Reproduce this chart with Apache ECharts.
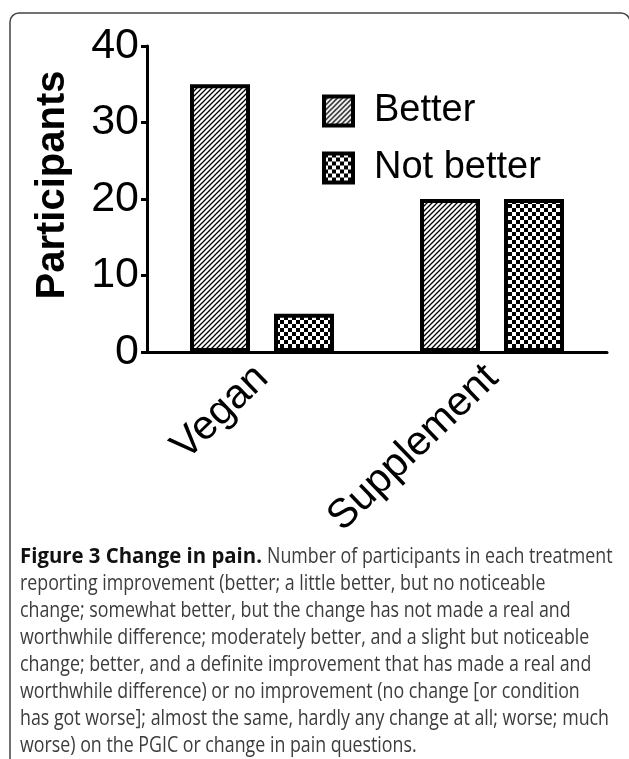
<!DOCTYPE html>
<html><head><meta charset="utf-8">
<script src="https://cdn.jsdelivr.net/npm/echarts@6/dist/echarts.min.js"></script>
<style>html,body{margin:0;padding:0;background:#fff}#c{width:629px;height:759px}</style>
</head><body><div id="c"></div>
<script>
const categories = ['Vegan', 'Supplement'];
const seriesNames = ['Better', 'Not better'];
const betterValues = [35, 20];
const notBetterValues = [5, 20];
const yTicks = [0, 10, 20, 30, 40];
const yAxisName = 'Participants';
const captionBold = 'Figure 3 Change in pain.';
const captionLines = [
  'Number of participants in each treatment',
  'reporting improvement (better; a little better, but no noticeable',
  'change; somewhat better, but the change has not made a real and',
  'worthwhile difference; moderately better, and a slight but noticeable',
  'change; better, and a definite improvement that has made a real and',
  'worthwhile difference) or no improvement (no change [or condition',
  'has got worse]; almost the same, hardly any change at all; worse; much',
  'worse) on the PGIC or change in pain questions.'
];

function hatchPattern() {
  const s = 5, c = document.createElement('canvas');
  c.width = s; c.height = s;
  const g = c.getContext('2d');
  g.fillStyle = '#fff'; g.fillRect(0, 0, s, s);
  g.strokeStyle = '#000'; g.lineWidth = 1.3;
  g.beginPath();
  g.moveTo(-1, s + 1); g.lineTo(s + 1, -1);
  g.moveTo(-1, 1); g.lineTo(1, -1);
  g.moveTo(s - 1, s + 1); g.lineTo(s + 1, s - 1);
  g.stroke();
  return c;
}
function checkerPattern() {
  const s = 8, c = document.createElement('canvas');
  c.width = s; c.height = s;
  const g = c.getContext('2d');
  g.fillStyle = '#fff'; g.fillRect(0, 0, s, s);
  g.fillStyle = '#000';
  g.fillRect(0, 0, s / 2, s / 2);
  g.fillRect(s / 2, s / 2, s / 2, s / 2);
  return c;
}
const fills = [
  { image: hatchPattern(), repeat: 'repeat' },
  { image: checkerPattern(), repeat: 'repeat' }
];

// caption sizing: condense Open Sans horizontally to mimic the original face
const capFont = 22, capBoldFont = 'bold ' + capFont + 'px "Open Sans"', capRegFont = capFont + 'px "Open Sans"';
const mc = document.createElement('canvas').getContext('2d');
function measure(font, s) { mc.font = font; return mc.measureText(s).width; }
const capScale = 589 / measure(capRegFont, captionLines[6]);
const boldScale = 242 / measure(capBoldFont, captionBold);
const restText = captionLines.slice(1).join('\n');

const chart = echarts.init(document.getElementById('c'), null, { renderer: 'canvas' });
chart.setOption({
  animation: false,
  backgroundColor: '#fff',
  grid: { left: 147, right: 22, top: 46, bottom: 407, containLabel: false },
  legend: {
    left: 317, top: 87, orient: 'vertical',
    itemWidth: 29, itemHeight: 29, itemGap: 19,
    icon: 'rect',
    itemStyle: { borderColor: '#000', borderWidth: 4 },
    data: seriesNames,
    textStyle: { fontFamily: 'Liberation Sans', fontSize: 38, color: '#000', padding: [0, 0, 0, 16] }
  },
  xAxis: {
    type: 'category', data: categories,
    axisLine: { lineStyle: { color: '#000', width: 3 } },
    axisTick: { alignWithLabel: true, length: 7, lineStyle: { color: '#000', width: 3 } },
    axisLabel: { rotate: 44, margin: 20, fontFamily: 'Liberation Sans', fontSize: 41, color: '#000' }
  },
  yAxis: {
    type: 'value', min: yTicks[0], max: yTicks[yTicks.length - 1], interval: 10,
    name: yAxisName, nameLocation: 'middle', nameGap: 74,
    nameTextStyle: { fontFamily: 'Liberation Sans', fontWeight: 'bold', fontSize: 40, color: '#000', padding: [0, 0, 0, 28] },
    axisLine: { show: true, lineStyle: { color: '#000', width: 3 } },
    axisTick: { show: true, length: 6, lineStyle: { color: '#000', width: 3 } },
    splitLine: { show: false },
    axisLabel: { margin: 8, fontFamily: 'Liberation Sans', fontSize: 43, color: '#000' }
  },
  series: [
    { name: seriesNames[0], type: 'bar', data: betterValues, barWidth: 60, barGap: '40%',
      itemStyle: { color: fills[0], borderColor: '#000', borderWidth: 4 } },
    { name: seriesNames[1], type: 'bar', data: notBetterValues, barWidth: 60,
      itemStyle: { color: fills[1], borderColor: '#000', borderWidth: 4 } }
  ],
  graphic: [
    { type: 'rect', shape: { x: 10, y: 13, width: 620, height: 800, r: 9 },
      style: { fill: 'none', stroke: '#444', lineWidth: 1.5 }, silent: true },
    { type: 'text', x: 20, y: 543, scaleX: boldScale,
      style: { text: captionBold, font: capBoldFont, fill: '#111', lineHeight: 27 } },
    { type: 'text', x: 267, y: 543, scaleX: capScale,
      style: { text: captionLines[0], font: capRegFont, fill: '#3c3c3c', lineHeight: 27 } },
    { type: 'text', x: 20, y: 570, scaleX: capScale,
      style: { text: restText, font: capRegFont, fill: '#3c3c3c', lineHeight: 27 } }
  ]
});
</script></body></html>
